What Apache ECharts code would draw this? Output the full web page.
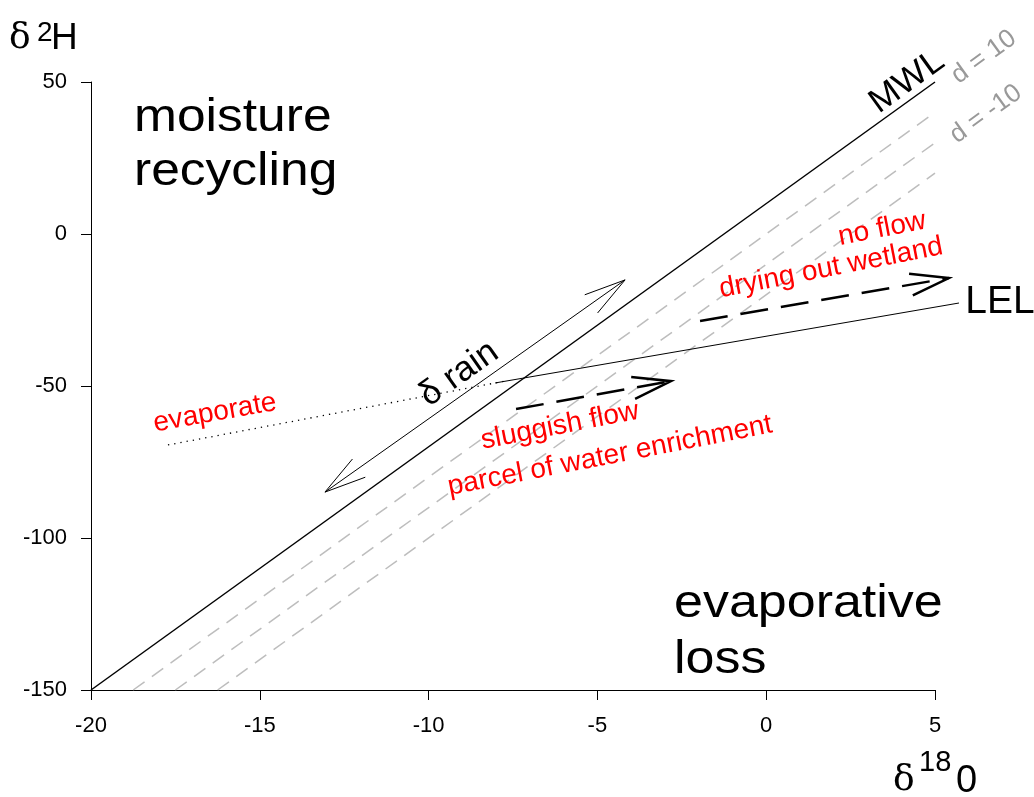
<!DOCTYPE html>
<html><head><meta charset="utf-8">
<script src="https://cdn.jsdelivr.net/npm/echarts@6/dist/echarts.min.js"></script>
<style>html,body{margin:0;padding:0;background:#fff}#c{width:1034px;height:797px}</style>
</head><body><div id="c"></div>
<script>
// ---- data ----
const xRange = [-20, 5];
const yRange = [-150, 50];
const xTickStep = 5;
const yTickStep = 50;
const mwlLine = [[-20, -150], [5, 50]];          // MWL: d2H = 8*d18O + 10
const dExcess0 = [[-18.75, -150], [5, 40]];       // d = 0
const dExcessM10 = [[-17.5, -150], [5, 30]];      // d = -10
const dExcessM20 = [[-16.25, -150], [5, 20]];     // d = -20
const lelLine = [[-8.03, -49.0], [5.71, -22.7]];
const evapDotted = [[-17.72, -69.4], [-7.74, -48.4]];
const rainArrow = [[-13.07, -84.9], [-4.18, -15.1]];
const sluggishArrow = [[-7.41, -57.6], [-2.82, -48.4]];
const noFlowArrow = [[-1.96, -28.6], [5.41, -14.5]];

const SANS = "'Liberation Sans', Arial, sans-serif";
const SERIF = "'DejaVu Serif', 'Liberation Serif', serif";
const deg = Math.PI / 180;

// a straight segment (optionally with open arrowheads) drawn through the axes
function segSeries(seg, opt) {
  return {
    type: 'custom', coordinateSystem: 'cartesian2d', clip: false, silent: true, animation: false,
    encode: { x: [0, 2], y: [1, 3] },
    data: [[seg[0][0], seg[0][1], seg[1][0], seg[1][1]]],
    renderItem: function (params, api) {
      const a = api.coord([api.value(0), api.value(1)]);
      const b = api.coord([api.value(2), api.value(3)]);
      const children = [{ type: 'line', shape: { x1: a[0], y1: a[1], x2: b[0], y2: b[1] },
        style: { stroke: opt.color || '#000', lineWidth: opt.width, lineDash: opt.dash || null } }];
      function head(tip, from) {
        const ang = Math.atan2(from[1] - tip[1], from[0] - tip[0]);
        const L = opt.headLen, h = opt.headAng * deg;
        children.push({ type: 'polyline', shape: { points: [
          [tip[0] + L * Math.cos(ang + h), tip[1] + L * Math.sin(ang + h)],
          [tip[0], tip[1]],
          [tip[0] + L * Math.cos(ang - h), tip[1] + L * Math.sin(ang - h)]] },
          style: { stroke: '#000', fill: null, lineWidth: opt.width } });
      }
      if (opt.headLen) {
        head(b, a);
        if (opt.both) head(a, b);
      }
      return { type: 'group', children: children };
    }
  };
}
function txt(text, x, y, size, opts) {
  opts = opts || {};
  return { type: 'text', x: x, y: y, rotation: (opts.rot || 0) * deg,
    scaleX: opts.sx || 1, silent: true, z: 10,
    style: { text: text, fontSize: size, fontFamily: opts.font || SANS, fill: opts.color || '#000',
             align: opts.align || 'center', verticalAlign: opts.va || 'middle' } };
}

const chart = echarts.init(document.getElementById('c'), null, { renderer: 'canvas' });
const GRAY = { color: '#bdbdbd', width: 1.5, dash: [14, 9] };
chart.setOption({
  animation: false,
  backgroundColor: '#fff',
  grid: { left: 91, right: 99, top: 82, bottom: 107 },
  xAxis: {
    type: 'value', min: xRange[0], max: xRange[1], interval: xTickStep,
    axisLine: { onZero: false, lineStyle: { color: '#000', width: 1 } },
    axisTick: { length: 10, lineStyle: { color: '#000', width: 1 } },
    axisLabel: { color: '#000', fontSize: 22, fontFamily: SANS, margin: 25 },
    splitLine: { show: false }
  },
  yAxis: {
    type: 'value', min: yRange[0], max: yRange[1], interval: yTickStep,
    axisLine: { onZero: false, lineStyle: { color: '#000', width: 1 } },
    axisTick: { length: 10, lineStyle: { color: '#000', width: 1 } },
    axisLabel: { color: '#000', fontSize: 22, fontFamily: SANS, margin: 24 },
    splitLine: { show: false }
  },
  series: [
    segSeries(dExcess0, GRAY),
    segSeries(dExcessM10, GRAY),
    segSeries(dExcessM20, GRAY),
    segSeries(mwlLine, { width: 1.5 }),
    segSeries(lelLine, { width: 1 }),
    segSeries(evapDotted, { width: 1.3, dash: [1.3, 5] }),
    segSeries(rainArrow, { width: 1, headLen: 43, headAng: 15, both: true }),
    segSeries(sluggishArrow, { width: 2.5, dash: [28, 13], headLen: 40, headAng: 16 }),
    segSeries(noFlowArrow, { width: 2.5, dash: [28, 13], headLen: 40, headAng: 16 })
  ],
  graphic: [
    // axis titles
    txt('δ', 9, 57, 36, { font: SERIF, align: 'left', va: 'bottom' }),
    txt('2', 37, 19, 28, { align: 'left', va: 'top' }),
    txt('H', 51, 57, 37, { align: 'left', va: 'bottom' }),
    txt('δ', 893, 799, 36, { font: SERIF, align: 'left', va: 'bottom' }),
    txt('18', 919, 748, 29, { align: 'left', va: 'top' }),
    txt('0', 956, 801, 38, { align: 'left', va: 'bottom' }),
    // region labels
    txt('moisture', 134, 118, 46, { align: 'left', sx: 1.12 }),
    txt('recycling', 134, 172, 46, { align: 'left', sx: 1.12 }),
    txt('evaporative', 674, 604, 46, { align: 'left', sx: 1.13 }),
    txt('loss', 674, 660, 46, { align: 'left', sx: 1.13 }),
    // line labels
    txt('MWL', 907, 82, 34, { rot: 35.8, sx: 1.05 }),
    txt('d = 10', 984, 57, 26, { rot: 35.8, color: '#999' }),
    txt('d = -10', 986, 114, 26, { rot: 35.8, color: '#999' }),
    txt('δ rain', 459, 374, 35, { rot: 35.2 }),
    txt('LEL', 1000, 302, 39),
    // red annotations
    txt('evaporate', 215, 413, 28, { rot: 10, color: '#ff0000' }),
    txt('sluggish flow', 560, 426, 28, { rot: 11, color: '#ff0000' }),
    txt('parcel of water enrichment', 610, 456, 28, { rot: 11, color: '#ff0000' }),
    txt('no flow', 882, 229, 28, { rot: 11, color: '#ff0000' }),
    txt('drying out wetland', 831, 268, 28, { rot: 11, color: '#ff0000' })
  ]
});
</script></body></html>
